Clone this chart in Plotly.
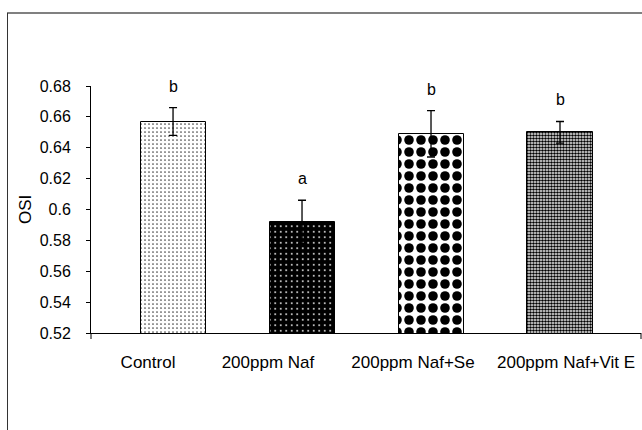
import plotly.graph_objects as go

# ---- data ----
categories = ["Control", "200ppm Naf", "200ppm Naf+Se", "200ppm Naf+Vit E"]
osi_mean = [0.657, 0.592, 0.649, 0.650]
osi_err = [0.009, 0.014, 0.015, 0.007]
sig_letters = ["b", "a", "b", "b"]
y_tick_vals = [0.52, 0.54, 0.56, 0.58, 0.60, 0.62, 0.64, 0.66, 0.68]
y_tick_text = ["0.52", "0.54", "0.56", "0.58", "0.6", "0.62", "0.64", "0.66", "0.68"]

# ---- style / layout helpers ----
FONT = "Liberation Sans, Arial, sans-serif"
x_pos = list(range(len(categories)))
label_shift = [-0.194, -0.264, -0.140, 0.047]  # category label offset (as in reference)
patterns = [
    dict(shape=".", fgcolor="#444444", bgcolor="white", size=4, solidity=0.14, fillmode="replace", fgopacity=1),
    dict(shape=".", fgcolor="white", bgcolor="black", size=5.5, solidity=0.08, fillmode="replace", fgopacity=1),
    dict(shape=".", fgcolor="black", bgcolor="white", size=12, solidity=0.5, fillmode="replace", fgopacity=1),
    dict(shape=".", fgcolor="black", bgcolor="white", size=3, solidity=0.6, fillmode="replace", fgopacity=1),
]

fig = go.Figure()
for i in x_pos:
    fig.add_trace(go.Bar(
        x=[x_pos[i]], y=[osi_mean[i]], width=0.504,
        marker=dict(color="white", pattern=patterns[i], line=dict(color="black", width=1)),
        error_y=dict(type="data", array=[osi_err[i]], color="black", thickness=1.3, width=4),
        showlegend=False,
    ))

for i in x_pos:
    fig.add_annotation(
        x=x_pos[i], y=osi_mean[i] + osi_err[i] + 0.014, text=sig_letters[i],
        showarrow=False, xref="x", yref="y", yanchor="middle",
        font=dict(family=FONT, size=16, color="black"),
    )

fig.add_annotation(
    x=(25.5 - 91) / 550, y=0.5, xref="paper", yref="paper", text="OSI",
    textangle=-90, showarrow=False, xanchor="center", yanchor="middle",
    font=dict(family=FONT, size=17, color="black"),
)

# outer chart frame (partially cropped in the reference)
fig.add_shape(type="line", xref="paper", yref="paper",
              x0=(7 - 91) / 550, x1=1.05, y0=(333 - 13) / 247, y1=(333 - 13) / 247,
              line=dict(color="#808080", width=2))
fig.add_shape(type="line", xref="paper", yref="paper",
              x0=(7.5 - 91) / 550, x1=(7.5 - 91) / 550, y0=(333 - 13) / 247, y1=-0.5,
              line=dict(color="#333333", width=1))
# category axis end ticks
for xp in (0, 1):
    fig.add_shape(type="line", xref="paper", yref="paper",
                  x0=xp, x1=xp, y0=0, y1=-6 / 247,
                  line=dict(color="black", width=1))

fig.update_layout(
    width=642, height=430,
    margin=dict(l=91, r=1, t=86, b=97),
    paper_bgcolor="white", plot_bgcolor="white",
    font=dict(family=FONT, color="black"),
    bargap=0,
    xaxis=dict(
        range=[-0.636, 3.628], showgrid=False, zeroline=False,
        showline=True, linecolor="black", linewidth=1,
        tickmode="array",
        tickvals=[x_pos[i] + label_shift[i] for i in x_pos],
        ticktext=categories, ticks="",
        tickfont=dict(family=FONT, size=17, color="black"),
        ticklabelstandoff=14,
    ),
    yaxis=dict(
        range=[0.52, 0.68], showgrid=False, zeroline=False,
        showline=True, linecolor="black", linewidth=1,
        tickmode="array", tickvals=y_tick_vals, ticktext=y_tick_text,
        ticks="outside", ticklen=4, tickcolor="black",
        tickfont=dict(family=FONT, size=16, color="black"),
        ticklabelstandoff=12,
    ),
)

fig.write_html("out.html")
